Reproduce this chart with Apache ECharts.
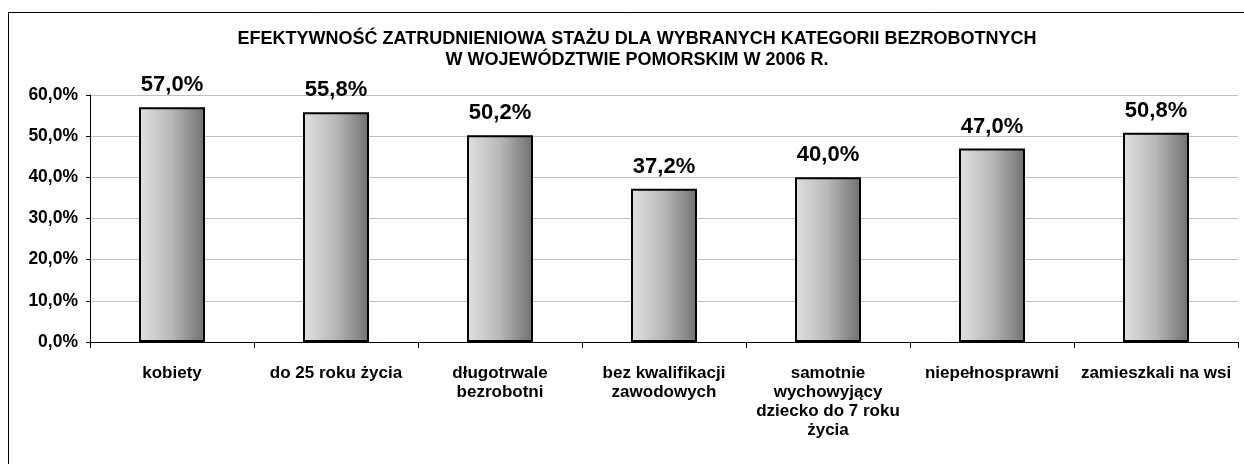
<!DOCTYPE html>
<html><head><meta charset="utf-8">
<script src="https://cdn.jsdelivr.net/npm/echarts@6/dist/echarts.min.js"></script>
<style>html,body{margin:0;padding:0;background:#fff}#c{width:1244px;height:464px}</style>
</head><body><div id="c"></div>
<script>
const titleText = 'EFEKTYWNOŚĆ ZATRUDNIENIOWA STAŻU DLA WYBRANYCH KATEGORII BEZROBOTNYCH\nW WOJEWÓDZTWIE POMORSKIM W 2006 R.';
const categories = ['kobiety','do 25 roku życia','długotrwale\nbezrobotni','bez kwalifikacji\nzawodowych','samotnie\nwychowyjący\ndziecko do 7 roku\nżycia','niepełnosprawni','zamieszkali na wsi'];
const values = [57.0, 55.8, 50.2, 37.2, 40.0, 47.0, 50.8];
const fmt = v => v.toFixed(1).replace('.', ',') + '%';
const FF = 'Liberation Sans, Arial, sans-serif';
const chart = echarts.init(document.getElementById('c'));
chart.setOption({
  animation: false,
  textStyle: {fontFamily: FF},
  graphic: [{type:'rect', shape:{x:8.5,y:12.5,width:1240,height:470}, style:{fill:'none', stroke:'#000', lineWidth:1}, z:-1}],
  title: {text: titleText, left: 632, top: 24, textAlign: 'center',
    textStyle: {fontSize: 18, fontWeight: 'bold', color: '#000', lineHeight: 21, fontFamily: FF}},
  grid: {left: 90, right: 6, top: 95, bottom: 122},
  xAxis: {type: 'category', data: categories,
    axisLine: {lineStyle: {color: '#000', width: 1}},
    axisTick: {show: true, length: 6, lineStyle: {color: '#000'}},
    axisLabel: {color: '#000', fontSize: 17, fontWeight: 'bold', lineHeight: 19, margin: 22, interval: 0, fontFamily: FF}},
  yAxis: {type: 'value', min: 0, max: 60, interval: 10,
    axisLine: {show: true, lineStyle: {color: '#000'}},
    axisTick: {show: true, length: 4, lineStyle: {color: '#000'}},
    splitLine: {lineStyle: {color: '#c0c0c0'}},
    axisLabel: {formatter: v => fmt(v), color: '#000', fontSize: 17.5, fontWeight: 'bold', margin: 12, fontFamily: FF}},
  series: [{type: 'bar', data: values, barWidth: 66,
    itemStyle: {borderColor: '#000', borderWidth: 2,
      color: new echarts.graphic.LinearGradient(0,0,1,0,[{offset:0,color:'#e0e0e0'},{offset:0.5,color:'#b8b8b8'},{offset:1,color:'#707070'}])},
    label: {show: true, position: 'top', distance: 11, formatter: p => fmt(p.value), color: '#000', fontSize: 22, fontWeight: 'bold', fontFamily: FF}}]
});
</script></body></html>
